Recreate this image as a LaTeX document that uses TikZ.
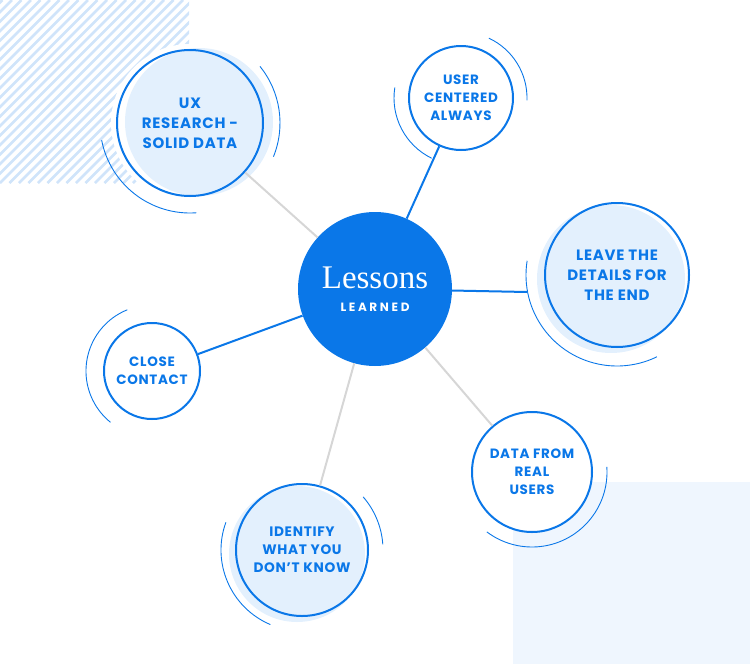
\documentclass[tikz,border=0pt]{standalone}
\usepackage{fontspec}
\usepackage{tikz}
\newfontfamily\nodefont{Poppins}[LetterSpace=5]
\newfontfamily\tagfont{Poppins}[LetterSpace=22]
\newfontfamily\titlefont{Liberation Serif}

\definecolor{mainblue}{HTML}{0A77E8}
\definecolor{paleblue}{HTML}{E3F0FD}
\definecolor{hatchblue}{HTML}{D0E4FA}
\definecolor{panelblue}{HTML}{EFF6FE}
\definecolor{spokegray}{HTML}{D6D6D6}

\tikzset{
  lesson/.style={circle, draw=mainblue, line width=2pt, fill=white, inner sep=0pt,
    align=center, text=mainblue, font=\nodefont\bfseries\fontsize{13.5}{18}\selectfont},
  biglesson/.style={lesson, fill=none, font=\nodefont\bfseries\fontsize{15}{20}\selectfont},
  orbit/.style={draw=mainblue, line width=0.9pt},
  spoke/.style={draw=spokegray, line width=2pt},
  bluespoke/.style={draw=mainblue, line width=2pt},
}

\begin{document}
\begin{tikzpicture}[x=1pt, y=1pt]
        \useasboundingbox (0,0) rectangle (750,-664);
        % Background panels
        \fill[panelblue] (513,-482) rectangle (750,-664);
        \begin{scope}
          \clip (0,0) rectangle (189,-183);
          \foreach \k in {-20,...,20}
            \draw[hatchblue, line width=2.6pt] (\k*9.5,-183) -- ++(183,183);
        \end{scope}
        % Pale discs behind the big rings
        \fill[white] (190,-123) circle[radius=79];
        \fill[paleblue] (199,-122) circle[radius=74];
        \fill[paleblue] (611,-279) circle[radius=74];
        \fill[paleblue] (297,-554) circle[radius=68];
        % Centre
        \node[circle, fill=mainblue, minimum size=154pt, inner sep=0pt, text=white,
          align=center, font=\fontsize{12}{23}\selectfont] (lessons) at (375,-289)
          {{\titlefont\fontsize{33}{23}\selectfont Lessons}\\{\tagfont\bfseries LEARNED}};
        % Lessons around it
        \node[biglesson, minimum size=146pt] (ux) at (190,-123) {UX\\RESEARCH -\\SOLID DATA};
        \node[lesson, minimum size=104pt] (user) at (461,-98) {USER\\CENTERED\\ALWAYS};
        \node[biglesson, minimum size=144pt] (details) at (617,-275) {LEAVE THE\\DETAILS FOR\\THE END};
        \node[lesson, minimum size=96pt] (contact) at (152,-371) {CLOSE\\CONTACT};
        \node[lesson, minimum size=120pt] (realdata) at (532,-472) {DATA FROM\\REAL\\USERS};
        \node[biglesson, minimum size=132pt, font=\nodefont\bfseries\fontsize{13.7}{18}\selectfont]
          (identify) at (302,-550) {IDENTIFY\\WHAT YOU\\DON’T KNOW};
        \coordinate (detailsend) at (527,-292);
        % Spokes
        \draw[spoke] (lessons) -- (ux);
        \draw[bluespoke] (lessons) -- (user);
        \draw[bluespoke] (lessons) -- (detailsend);
        \draw[bluespoke] (lessons) -- (contact);
        \draw[spoke] (lessons) -- (realdata);
        \draw[spoke] (lessons) -- (identify);
        % Orbit arcs
        \draw[orbit] (ux.center) ++(39:90) arc[start angle=39, end angle=-22, radius=90];
        \draw[orbit] (ux.center) ++(191:90) arc[start angle=191, end angle=274, radius=90];
        \draw[orbit] (user.center) ++(65:66) arc[start angle=65, end angle=-2, radius=66];
        \draw[orbit] (user.center) ++(171:67) arc[start angle=171, end angle=244, radius=67];
        \draw[orbit] (details.center) ++(171:91) arc[start angle=171, end angle=296, radius=91];
        \draw[orbit] (contact.center) ++(112:66) arc[start angle=112, end angle=231, radius=66];
        \draw[orbit] (realdata.center) ++(4:75) arc[start angle=4, end angle=-127, radius=75];
        \draw[orbit] (identify.center) ++(41:81) arc[start angle=41, end angle=4, radius=81];
        \draw[orbit] (identify.center) ++(160:81) arc[start angle=160, end angle=247, radius=81];
      \end{tikzpicture}
\end{document}
